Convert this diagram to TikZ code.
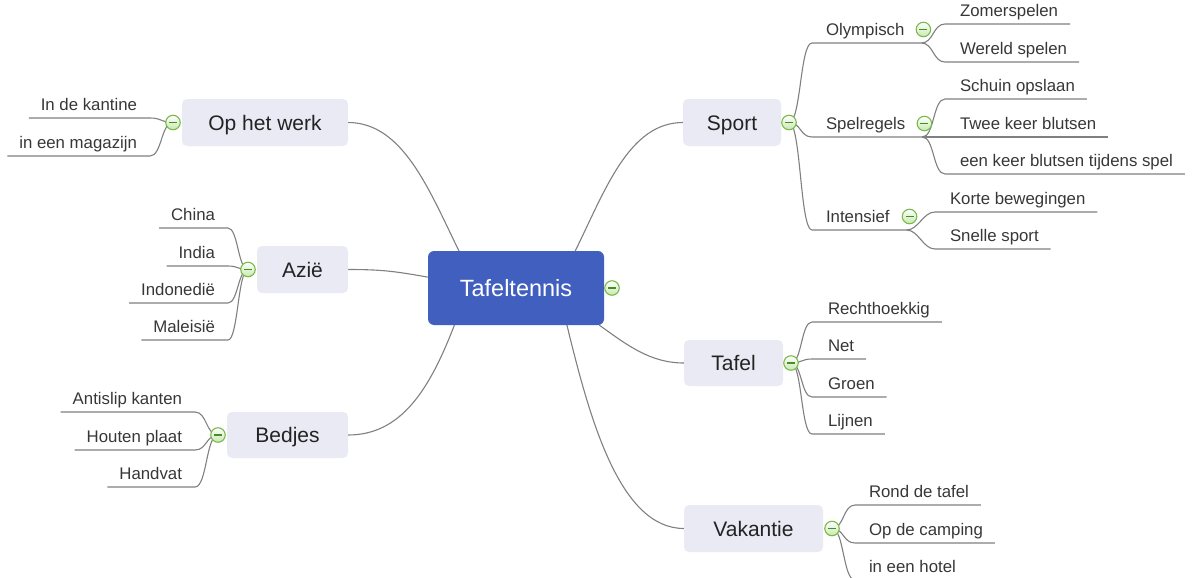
\documentclass[tikz,border=0pt]{standalone}
\usepackage{fontspec}
\setmainfont{Liberation Sans}
\usetikzlibrary{calc,backgrounds}
\definecolor{cblue}{RGB}{65,95,190}
\definecolor{tbox}{RGB}{233,234,244}
\definecolor{lgray}{RGB}{128,128,128}
\definecolor{txt}{RGB}{55,55,55}
\definecolor{ttxt}{RGB}{35,35,35}
\definecolor{cgreen}{RGB}{122,186,76}
\definecolor{cgreenfill}{RGB}{200,232,175}
\definecolor{cminus}{RGB}{70,140,40}
\begin{document}
\begin{tikzpicture}[x=1pt,y=-1pt,
  central/.style={fill=cblue, rounded corners=6pt, minimum width=176pt, minimum height=74pt, inner sep=0pt, outer sep=0pt, text=white, text height=16.8pt, text depth=0pt, font=\fontsize{23.5}{28}\selectfont},
  topic/.style={fill=tbox, rounded corners=5pt, inner sep=0pt, outer sep=0pt, text=ttxt, text height=15pt, text depth=0pt, font=\fontsize{21}{25}\selectfont},
  leafR/.style={anchor=south west, inner sep=0pt, outer sep=0pt, text depth=7.5pt, text=txt, font=\fontsize{16.8}{20}\selectfont, execute at begin node={\hspace{#1}}, execute at end node={\hspace{12pt}}},
  leafR/.default=15pt,
  subR/.style={anchor=south west, inner sep=0pt, outer sep=0pt, text depth=7.5pt, text=txt, font=\fontsize{16.8}{20}\selectfont, execute at begin node={\hspace{14pt}}, execute at end node={\hspace{17pt}}},
  leafL/.style={anchor=south east, inner sep=0pt, outer sep=0pt, text depth=7.5pt, text=txt, font=\fontsize{16.8}{20}\selectfont, execute at begin node={\hspace{12pt}}, execute at end node={\hspace{13pt}}},
  br/.style={draw=lgray, line width=1.1pt},
  tog/.style={circle, draw=cgreen, top color=white, bottom color=cgreenfill, line width=1.1pt, minimum size=14.5pt, inner sep=0pt,
    path picture={\draw[cminus, line width=1.4pt] ([xshift=-4pt]path picture bounding box.center) -- ([xshift=4pt]path picture bounding box.center);}}
]
\useasboundingbox (0,0) rectangle (1197,578);

% central and topics
\node[central] (c) at (516,288) {Tafeltennis};
\node[topic, minimum width=98pt, minimum height=47pt] (sport) at (732,122.5) {Sport};
\node[topic, minimum width=99pt, minimum height=46pt] (tafel) at (733.5,363) {Tafel};
\node[topic, minimum width=139pt, minimum height=47pt] (vak) at (753.5,528.5) {Vakantie};
\node[topic, minimum width=166pt, minimum height=47pt] (werk) at (265,122.5) {Op het werk};
\node[topic, minimum width=91pt, minimum height=47pt] (azie) at (302.5,269.5) {Azië};
\node[topic, minimum width=121pt, minimum height=46pt] (bed) at (287.5,435) {Bedjes};

% subtopics of Sport
\node[subR] (oly) at (812,43) {Olympisch};
\node[subR] (spel) at (812,137) {Spelregels};
\node[subR] (int) at (812,230) {Intensief};

% right leaves
\node[leafR] (zomer) at (945,24) {Zomerspelen};
\node[leafR] (wereld) at (945,62) {Wereld spelen};
\node[leafR] (schuin) at (945,99) {Schuin opslaan};
\node[leafR] (twee) at (945,137) {Twee keer blutsen};
\node[leafR] (eenk) at (945,174) {een keer blutsen tijdens spel\hspace{13pt}};
\node[leafR] (korte) at (935,212) {Korte bewegingen};
\node[leafR] (snel) at (935,249) {Snelle sport};
\node[leafR=16pt] (recht) at (812,322) {Rechthoekkig};
\node[leafR=16pt] (net) at (812,359) {Net};
\node[leafR=16pt] (groen) at (812,397) {Groen};
\node[leafR=16pt] (lijn) at (812,434) {Lijnen};
\node[leafR=14pt] (rond) at (855,505) {Rond de tafel};
\node[leafR=14pt] (camp) at (855,543) {Op de camping};
\node[leafR=14pt] (hotel) at (855,580) {in een hotel};

% left leaves
\node[leafL] (kant) at (150,118) {In de kantine};
\node[leafL] (maga) at (150,156) {in een magazijn};
\node[leafL] (china) at (228,228) {China};
\node[leafL] (india) at (228,266) {India};
\node[leafL] (indo) at (228,303) {Indonedië};
\node[leafL] (mal) at (228,340) {Maleisië};
\node[leafL] (anti) at (195,412) {Antislip kanten};
\node[leafL] (hout) at (195,450) {Houten plaat};
\node[leafL] (hand) at (195,487) {Handvat};

% toggles
\node[tog] (cT) at ([xshift=8pt]c.east) {};
\node[tog] (sportT) at ([xshift=8pt]sport.east) {};
\node[tog] (tafelT) at ([xshift=8pt]tafel.east) {};
\node[tog] (vakT) at ([xshift=9pt]vak.east) {};
\node[tog] (werkT) at ([xshift=-9pt]werk.west) {};
\node[tog] (azieT) at ([xshift=-9pt]azie.west) {};
\node[tog] (bedT) at ([xshift=-9pt]bed.west) {};
\node[tog] (olyT) at ([xshift=2pt,yshift=13.5pt]oly.south east) {};
\node[tog] (spelT) at ([xshift=2pt,yshift=13.5pt]spel.south east) {};
\node[tog] (intT) at ([xshift=3pt,yshift=13.5pt]int.south east) {};

\begin{scope}[on background layer]
% main branches
\draw[br] (c.32) .. controls +(30,-61) and +(-54,0) .. (sport.west);
\draw[br] (c.336.7) .. controls +(28,20) and +(-34,0) .. (tafel.west);
\draw[br] (c.324) .. controls +(23,95) and +(-64,0) .. (vak.west);
\draw[br] (c.147.9) .. controls +(-30,-61) and +(55,0) .. (werk.east);
\draw[br] (c.173.5) .. controls +(-33,-6) and +(33,0) .. (azie.east);
\draw[br] (c.211.2) .. controls +(-25,65) and +(53,0) .. (bed.east);

% sport
\foreach \n in {oly,spel,int}
  \draw[br] (sportT.center) .. controls +(12,0) and +(-12,0) .. (\n.south west) -- (\n.south east);
\foreach \n in {zomer,wereld}
  \draw[br] (oly.south east) .. controls +(12,0) and +(-12,0) .. (\n.south west) -- (\n.south east);
\foreach \n in {schuin,twee,eenk}
  \draw[br] (spel.south east) .. controls +(12,0) and +(-12,0) .. (\n.south west) -- (\n.south east);
\foreach \n in {korte,snel}
  \draw[br] (int.south east) .. controls +(12,0) and +(-12,0) .. (\n.south west) -- (\n.south east);

% tafel, vakantie
\foreach \n in {recht,net,groen,lijn}
  \draw[br] (tafelT.center) .. controls +(11,0) and +(-11,0) .. (\n.south west) -- (\n.south east);
\foreach \n in {rond,camp,hotel}
  \draw[br] (vakT.center) .. controls +(12,0) and +(-12,0) .. (\n.south west) -- (\n.south east);

% left side
\foreach \n in {kant,maga}
  \draw[br] (werkT.center) .. controls +(-12,0) and +(12,0) .. (\n.south east) -- (\n.south west);
\foreach \n in {china,india,indo,mal}
  \draw[br] (azieT.center) .. controls +(-10,0) and +(10,0) .. (\n.south east) -- (\n.south west);
\foreach \n in {anti,hout,hand}
  \draw[br] (bedT.center) .. controls +(-12,0) and +(12,0) .. (\n.south east) -- (\n.south west);
\end{scope}
\end{tikzpicture}
\end{document}
